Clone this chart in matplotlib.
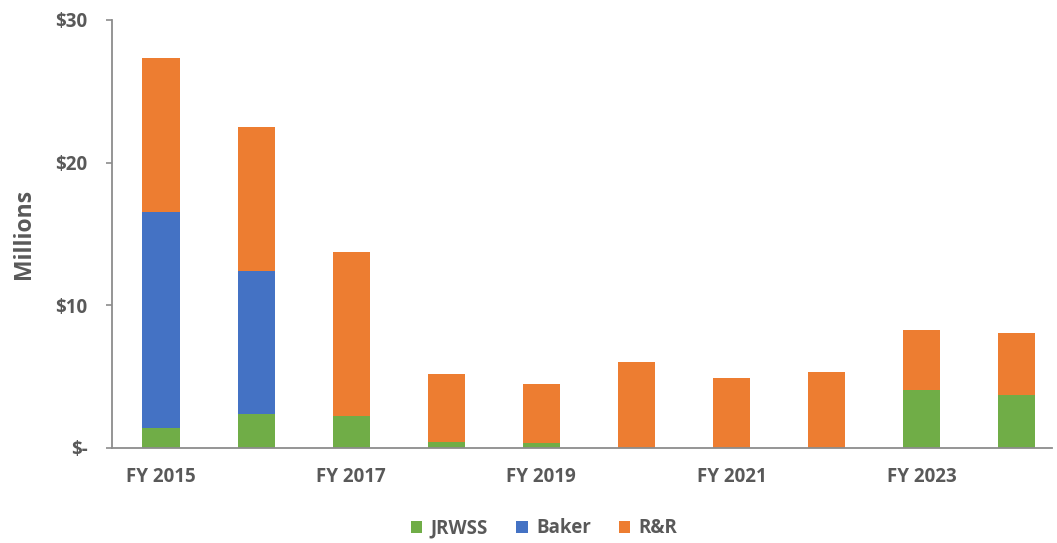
import matplotlib
matplotlib.use("Agg")
import matplotlib.pyplot as plt
import numpy as np

years = ["FY 2015", "FY 2016", "FY 2017", "FY 2018", "FY 2019",
         "FY 2020", "FY 2021", "FY 2022", "FY 2023", "FY 2024"]
# values in $ millions
jrwss = [1.40, 2.36, 2.20, 0.40, 0.33, 0.0, 0.0, 0.0, 4.05, 3.70]
baker = [15.15, 10.03, 0.0, 0.0, 0.0, 0.0, 0.0, 0.0, 0.0, 0.0]
rr = [10.75, 10.10, 11.50, 4.80, 4.17, 5.99, 4.87, 5.33, 4.18, 4.32]

GREEN = "#70AD47"
BLUE = "#4472C4"
ORANGE = "#ED7D31"
TEXT = "#595959"

plt.rcParams['font.family'] = ['Open Sans', 'DejaVu Sans']

fig = plt.figure(figsize=(10.57, 5.43), dpi=100)
ax = fig.add_axes([112 / 1057, 1 - 447.7 / 543, 940 / 1057, (447.7 - 20) / 543])

x = np.arange(len(years))
w = 0.39
jr = np.array(jrwss)
bk = np.array(baker)
ax.bar(x, jrwss, w, color=GREEN, label="JRWSS")
ax.bar(x, baker, w, bottom=jr, color=BLUE, label="Baker")
ax.bar(x, rr, w, bottom=jr + bk, color=ORANGE, label="R&R")

ax.set_ylim(0, 30)
ax.set_xlim(-0.515, 9.37)
ax.set_yticks([0, 10, 20, 30])
ax.set_yticklabels(["$-", "$10", "$20", "$30"])
ax.set_xticks(x[::2])
ax.set_xticklabels(years[::2])

for s in ["top", "right"]:
    ax.spines[s].set_visible(False)
for s in ["left", "bottom"]:
    ax.spines[s].set_color("#8c8c8c")
    ax.spines[s].set_linewidth(1.3)

ax.tick_params(axis="x", length=0, pad=14, labelsize=13.5, labelcolor=TEXT)
ax.tick_params(axis="y", length=4.5, color="#8c8c8c", width=1.2, pad=13, labelsize=13.5, labelcolor=TEXT)
for lab in ax.get_xticklabels() + ax.get_yticklabels():
    lab.set_fontweight("bold")

ax.set_ylabel("Millions", fontsize=16.5, fontweight="bold", color=TEXT, labelpad=14)

fig.legend(loc="center", bbox_to_anchor=(0.515, 0.027), ncol=3, frameon=False,
           handlelength=0.6, handleheight=0.6, handletextpad=0.45, columnspacing=1.5,
           prop={"weight": "bold", "size": 13.5}, labelcolor=TEXT)

fig.savefig("out.png", dpi=100)
